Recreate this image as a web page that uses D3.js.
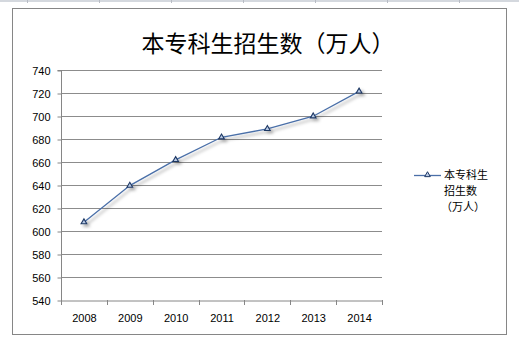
<!DOCTYPE html>
<html><head><meta charset="utf-8">
<script src="https://cdn.jsdelivr.net/npm/d3@7"></script>
<style>body{margin:0;background:#fff;}svg{display:block;}</style>
</head><body>
<svg id="c" width="519" height="344"></svg>
<script>
const years = ["2008","2009","2010","2011","2012","2013","2014"];
const values = [607.7, 639.5, 661.8, 681.5, 688.8, 699.8, 721.4];
const yTicks = [540,560,580,600,620,640,660,680,700,720,740];
const title = "本专科生招生数（万人）";
const legendLines = ["本专科生","招生数","（万人）"];

(function(){
const svg = d3.select("#c");
const defs = svg.append("defs");
const f = defs.append("filter").attr("id","sh").attr("x","-20%").attr("y","-20%").attr("width","140%").attr("height","140%");
f.append("feDropShadow").attr("dx",2.5).attr("dy",2.5).attr("stdDeviation",1.6).attr("flood-color","#000").attr("flood-opacity",0.35);

// spreadsheet header strip
svg.append("rect").attr("x",0).attr("y",0).attr("width",519).attr("height",2).attr("fill","#d4d8de");
[27,99,171,243,315,387,459].forEach(xx=>svg.append("line").attr("x1",xx+0.5).attr("x2",xx+0.5).attr("y1",0).attr("y2",3).attr("stroke","#b8bcc4"));

// frame
svg.append("rect").attr("x",12.5).attr("y",8.5).attr("width",494).attr("height",326).attr("fill","#fff").attr("stroke","#868686").attr("stroke-width",1);

const pL=61, pR=382, pT=70, pB=300;
const x = d3.scaleBand().domain(years).range([pL,pR]);
const y = d3.scaleLinear().domain([540,740]).range([pB,pT]);

// gridlines
svg.append("g").selectAll("line").data(yTicks.slice(1)).join("line")
  .attr("x1",pL).attr("x2",pR).attr("y1",d=>Math.round(y(d))+0.5).attr("y2",d=>Math.round(y(d))+0.5)
  .attr("stroke","#8c8c8c").attr("stroke-width",1);

// y axis
const ya = svg.append("g").attr("transform",`translate(${pL+0.5},0.5)`)
  .call(d3.axisLeft(y).tickValues(yTicks).tickSize(4).tickPadding(7).tickFormat(d3.format("d")));
ya.select(".domain").attr("stroke","#868686").attr("d",`M-4,${y(740)}H0V${y(540)}`);
ya.selectAll(".tick line").attr("stroke","#868686");
ya.selectAll("text").attr("font-family","Liberation Sans, Arial, sans-serif").attr("font-size",11).attr("fill","#000");

// x axis
const xa = svg.append("g").attr("transform",`translate(0.5,${pB+0.5})`)
  .call(d3.axisBottom(x).tickSize(0).tickPadding(14));
xa.select(".domain").attr("stroke","#868686");
xa.selectAll(".tick text").attr("font-family","Liberation Sans, Arial, sans-serif").attr("font-size",11).attr("fill","#000");
svg.append("g").selectAll("line").data(years.concat(["end"])).join("line")
  .attr("x1",(d,i)=>Math.round(pL+i*x.bandwidth())+0.5).attr("x2",(d,i)=>Math.round(pL+i*x.bandwidth())+0.5)
  .attr("y1",pB).attr("y2",pB+5).attr("stroke","#868686");

// line
const pts = years.map((yr,i)=>[x(yr)+x.bandwidth()/2, y(values[i])]);
const g = svg.append("g").attr("filter","url(#sh)");
g.append("path").attr("d",d3.line()(pts)).attr("fill","none").attr("stroke","#4a6fa8").attr("stroke-width",1.3);
const tri = d3.symbol().type(d3.symbolTriangle).size(14);
g.selectAll("path.m").data(pts).join("path").attr("class","m")
  .attr("transform",d=>`translate(${d[0]},${d[1]})`).attr("d",tri)
  .attr("fill","#b9cbe6").attr("stroke","#1f3864").attr("stroke-width",1.1);

// title
svg.append("text").attr("x",268).attr("y",52).attr("text-anchor","middle")
  .attr("font-family","Noto Sans CJK SC, sans-serif").attr("font-size",23).attr("fill","#000").text(title);

// legend
svg.append("line").attr("x1",414).attr("x2",441).attr("y1",175.5).attr("y2",175.5).attr("stroke","#4a6fa8").attr("stroke-width",1.3);
svg.append("path").attr("transform","translate(427.5,175)").attr("d",tri).attr("fill","#b9cbe6").attr("stroke","#1f3864");
svg.append("g").selectAll("text").data(legendLines).join("text")
  .attr("x",(d,i)=>i==2?441:444).attr("y",(d,i)=>179+i*16)
  .attr("font-family","Noto Sans CJK SC, sans-serif").attr("font-size",11).attr("fill","#000").text(d=>d);
})();
</script>
</body></html>
